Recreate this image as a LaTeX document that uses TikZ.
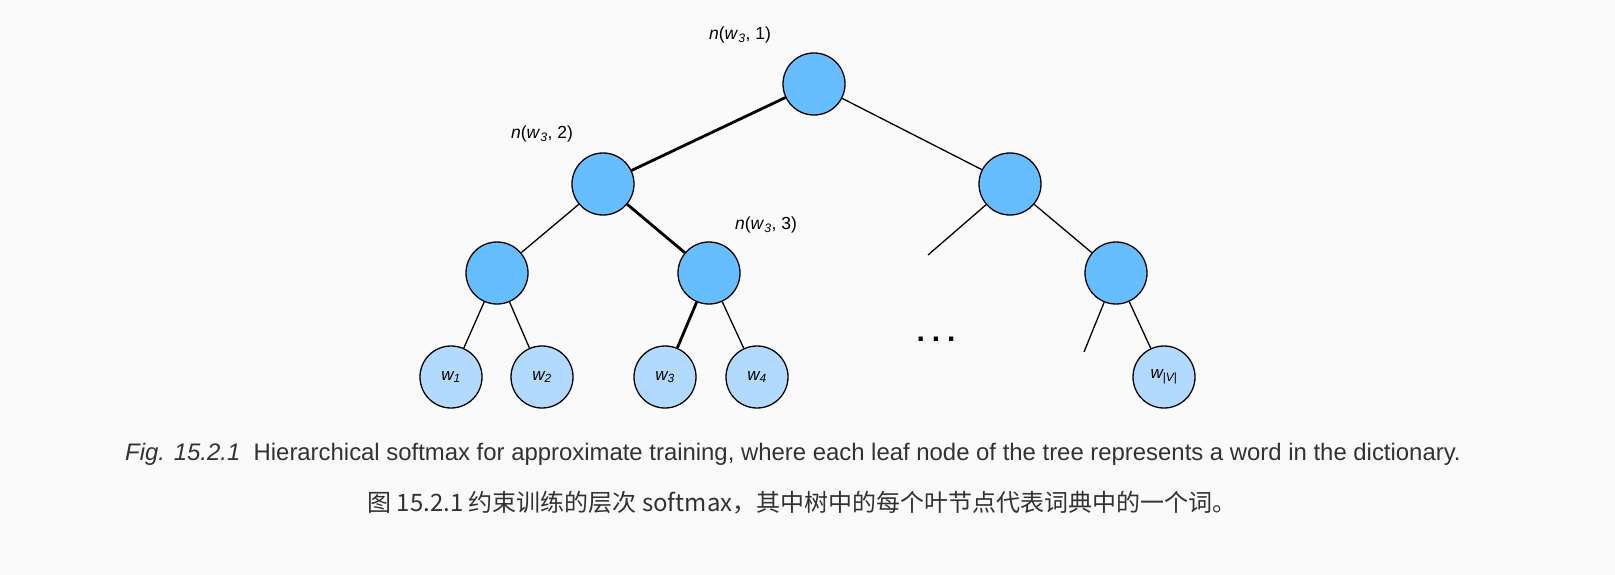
\documentclass[tikz,border=0pt]{standalone}
\usepackage{fontspec}
\setmainfont{Liberation Sans}
\newfontfamily\cjkfont{Noto Sans CJK SC}
\usetikzlibrary{positioning}
\definecolor{innerblue}{RGB}{102,190,255}
\definecolor{leafblue}{RGB}{178,218,255}
\definecolor{pagebg}{RGB}{250,250,250}
\definecolor{captext}{RGB}{50,50,50}
\tikzset{
  inner/.style={draw, circle, fill=innerblue, minimum size=62pt, inner sep=0pt,
    line width=1.3pt},
  leaf/.style={draw, circle, fill=leafblue, minimum size=62pt, inner sep=0pt,
    line width=1.3pt, font=\fontsize{17}{20}\selectfont\itshape},
  tag/.style={inner sep=0pt, font=\fontsize{17.5}{21}\selectfont},
  edge/.style={line width=1.3pt},
  wordpath/.style={line width=2.8pt},
  caption/.style={inner sep=0pt, text=captext, font=\fontsize{23.9}{28}\selectfont}
}

\begin{document}
\begin{tikzpicture}[x=1pt,y=-1pt]

\useasboundingbox[fill=pagebg] (0,0) rectangle (1615,575);

% ------------------------------------------------------------------
% inner nodes
% ------------------------------------------------------------------
\node[inner] (root) at (814,84) {};
\node[inner] (left1) at (603,184) {};
\node[inner] (right1) at (1010,184) {};
\node[inner] (left2) at (497,273) {};
\node[inner] (mid2) at (709,273) {};
\node[inner] (right2) at (1116,273) {};

\node[tag] (lab1) at (740,35) {\textit{n}(\textit{w}\textsubscript{\textit{3}}, 1)};
\node[tag] (lab2) at (542,134) {\textit{n}(\textit{w}\textsubscript{\textit{3}}, 2)};
\node[tag] (lab3) at (766,225) {\textit{n}(\textit{w}\textsubscript{\textit{3}}, 3)};

% ------------------------------------------------------------------
% leaves
% ------------------------------------------------------------------
\node[leaf] (w1) at (451,377) {w\textsubscript{1}};
\node[leaf] (w2) at (542,377) {w\textsubscript{2}};
\node[leaf] (w3) at (665,377) {w\textsubscript{3}};
\node[leaf] (w4) at (757,377) {w\textsubscript{4}};
\node[leaf] (wV) at (1164,377) {w\textsubscript{\upshape|\itshape V\upshape|}};

\node[inner sep=0pt, font=\fontsize{30}{30}\selectfont\bfseries] (dots) at (936,339)
  {.\hspace{7pt}.\hspace{7pt}.};

\coordinate (right1free) at (928,255);
\coordinate (right2free) at (1084,352);

\draw[wordpath] (root) -- (left1);
\draw[edge] (root) -- (right1);
\draw[edge] (left1) -- (left2);
\draw[wordpath] (left1) -- (mid2);
\draw[edge] (right1) -- (right1free);
\draw[edge] (right1) -- (right2);
\draw[edge] (left2) -- (w1);
\draw[edge] (left2) -- (w2);
\draw[wordpath] (mid2) -- (w3);
\draw[edge] (mid2) -- (w4);
\draw[edge] (right2) -- (right2free);
\draw[edge] (right2) -- (wV);

% ------------------------------------------------------------------
% caption
% ------------------------------------------------------------------
\node[caption] (capen) at (793,454)
  {\textit{Fig. 15.2.1}\ \ Hierarchical softmax for approximate training, where each leaf node of the tree represents a word in the dictionary.};
\node[caption, font=\cjkfont\fontsize{24}{28}\selectfont] (capzh) at (802,503)
  {图 15.2.1 约束训练的层次 softmax，其中树中的每个叶节点代表词典中的一个词。};

\end{tikzpicture}
\end{document}
